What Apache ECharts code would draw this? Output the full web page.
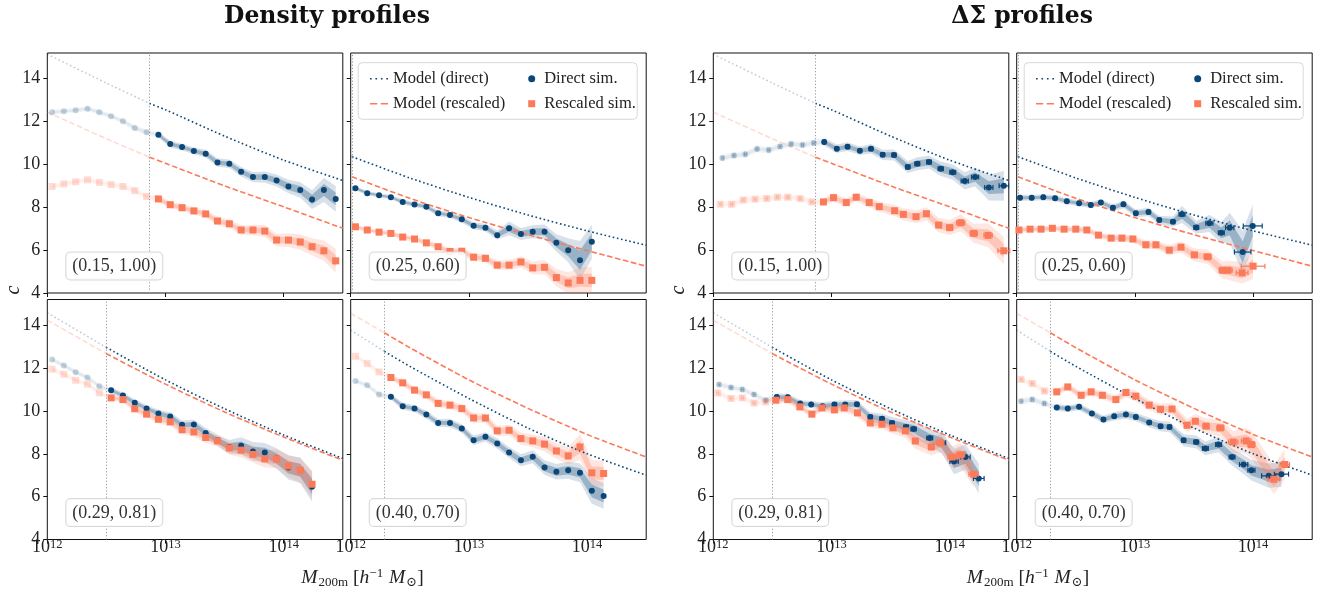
<!DOCTYPE html>
<html>
<head>
<meta charset="utf-8">
<script src="https://cdn.jsdelivr.net/npm/echarts@6/dist/echarts.min.js"></script>
<style>
  html, body { margin: 0; padding: 0; background: #fff; }
  #chart { width: 1322px; height: 594px; }
</style>
</head>
<body>
<div id="chart"></div>
<script>
// ---------------------------------------------------------------------------
// Concentration–mass relations: model curves (log10 M grid incl. the cut mass)
// ---------------------------------------------------------------------------
const modelA_logM     = [12.0, 12.5, 12.864, 13.0, 13.5, 14.0, 14.5];
const modelA_direct   = [15.14, 13.8, 12.85, 12.55, 11.32, 10.2, 9.25];
const modelA_rescaled = [12.44, 11.2, 10.34, 10.05, 9.0, 8.02, 7.02];

const modelB_logM     = [12.0, 12.012, 12.5, 13.0, 13.5, 14.0, 14.5];
const modelB_direct   = [10.38, 10.36, 9.37, 8.46, 7.64, 6.9, 6.23];
const modelB_rescaled = [9.44, 9.42, 8.42, 7.52, 6.72, 5.98, 5.25];

const modelC_logM     = [12.0, 12.497, 13.0, 13.5, 14.0, 14.5];
const modelC_direct   = [14.58, 12.97, 11.45, 10.1, 8.88, 7.78];
const modelC_rescaled = [14.23, 12.68, 11.25, 9.95, 8.78, 7.70];

const modelD_logM     = [12.0, 12.285, 12.5, 13.0, 13.5, 14.0, 14.5];
const modelD_direct   = [13.77, 12.78, 12.08, 10.58, 9.2, 8.0, 7.0];
const modelD_rescaled = [14.55, 13.65, 12.95, 11.45, 10.12, 8.9, 7.85];

// resolution cut (log10 M) per parameter set
const cutA = 12.864, cutB = 12.012, cutC = 12.497, cutD = 12.285;

// ---------------------------------------------------------------------------
// Density-profile fits
// ---------------------------------------------------------------------------
const densA_logM = [12.04,12.14,12.24,12.34,12.44,12.54,12.64,12.74,12.84,12.94,13.04,13.14,13.24,13.34,13.44,13.54,13.64,13.74,13.84,13.94,14.04,14.14,14.24,14.34,14.44];
const densA_direct = [12.44,12.48,12.53,12.60,12.44,12.25,12.02,11.70,11.50,11.39,10.95,10.81,10.63,10.50,10.09,10.03,9.66,9.41,9.41,9.25,8.97,8.81,8.36,8.81,8.39];
const densA_directErr = [0.06,0.06,0.06,0.06,0.06,0.06,0.06,0.07,0.07,0.07,0.08,0.08,0.08,0.09,0.1,0.1,0.11,0.12,0.13,0.14,0.16,0.18,0.22,0.28,0.3];
const densA_rescaled = [8.97,9.09,9.19,9.28,9.16,9.06,8.97,8.78,8.50,8.39,8.12,7.98,7.83,7.69,7.36,7.23,6.94,6.94,6.89,6.47,6.47,6.38,6.16,5.97,5.50];
const densA_rescaledErr = [0.06,0.06,0.06,0.06,0.06,0.06,0.07,0.07,0.07,0.08,0.08,0.08,0.09,0.09,0.1,0.1,0.11,0.12,0.14,0.15,0.16,0.18,0.2,0.24,0.28];

const densB_logM = [12.04,12.14,12.24,12.34,12.44,12.54,12.64,12.74,12.84,12.94,13.04,13.14,13.24,13.34,13.44,13.54,13.64,13.74,13.84,13.94,14.04];
const densB_direct = [8.89,8.66,8.56,8.47,8.25,8.13,8.03,7.72,7.64,7.44,7.14,7.05,6.70,7.02,6.75,6.86,6.86,6.34,6.00,5.53,6.39];
const densB_directErr = [0.05,0.05,0.05,0.05,0.06,0.06,0.06,0.07,0.07,0.08,0.08,0.09,0.1,0.16,0.14,0.15,0.17,0.2,0.28,0.45,0.4];
const densB_rescaled = [7.09,6.94,6.84,6.78,6.61,6.52,6.34,6.16,5.94,5.95,5.67,5.62,5.30,5.30,5.45,5.17,5.20,4.72,4.47,4.59,4.59];
const densB_rescaledErr = [0.05,0.05,0.05,0.06,0.06,0.06,0.07,0.07,0.08,0.08,0.09,0.1,0.11,0.12,0.13,0.15,0.17,0.2,0.25,0.3,0.32];

const densC_logM = [12.04,12.14,12.24,12.34,12.44,12.54,12.64,12.74,12.84,12.94,13.04,13.14,13.24,13.34,13.44,13.54,13.64,13.74,13.84,13.94,14.04,14.14,14.24];
const densC_direct = [12.40,12.12,11.81,11.56,11.15,10.97,10.72,10.38,10.11,9.88,9.74,9.35,9.37,8.97,8.63,8.32,8.37,8.11,8.06,7.78,7.36,7.23,6.46];
const densC_directErr = [0.06,0.06,0.06,0.06,0.06,0.07,0.07,0.08,0.08,0.09,0.1,0.1,0.11,0.12,0.13,0.16,0.2,0.22,0.22,0.24,0.28,0.3,0.35];
const densC_rescaled = [11.95,11.71,11.43,11.25,10.84,10.61,10.53,10.10,9.85,9.61,9.49,9.12,9.02,8.76,8.60,8.27,8.17,7.97,7.76,7.76,7.43,7.23,6.58];
const densC_rescaledErr = [0.06,0.06,0.06,0.06,0.06,0.07,0.07,0.08,0.08,0.09,0.1,0.1,0.11,0.12,0.13,0.15,0.17,0.19,0.2,0.22,0.26,0.28,0.32];

const densD_logM = [12.04,12.14,12.24,12.34,12.44,12.54,12.64,12.74,12.84,12.94,13.04,13.14,13.24,13.34,13.44,13.54,13.64,13.74,13.84,13.94,14.04,14.14];
const densD_direct = [11.40,11.20,10.77,10.66,10.22,10.11,9.83,9.44,9.44,9.18,8.63,8.79,8.48,8.06,7.70,7.86,7.36,7.16,7.23,7.11,6.27,6.03];
const densD_directErr = [0.06,0.06,0.07,0.07,0.08,0.08,0.09,0.09,0.1,0.1,0.11,0.11,0.12,0.13,0.14,0.15,0.17,0.18,0.2,0.22,0.3,0.3];
const densD_rescaled = [12.55,12.21,11.82,11.56,11.31,10.97,10.75,10.35,10.27,10.11,9.67,9.67,9.07,9.10,8.71,8.60,8.45,8.13,7.90,8.32,7.11,7.08];
const densD_rescaledErr = [0.06,0.06,0.07,0.07,0.08,0.08,0.09,0.09,0.1,0.1,0.11,0.11,0.12,0.13,0.14,0.15,0.17,0.18,0.2,0.3,0.3,0.3];

// ---------------------------------------------------------------------------
// Excess-surface-density (ΔΣ) fits, with mass uncertainties (dex)
// ---------------------------------------------------------------------------
const dsA_directLogM = [12.076,12.175,12.271,12.370,12.469,12.565,12.659,12.755,12.850,12.938,13.045,13.136,13.240,13.334,13.433,13.529,13.645,13.726,13.825,13.924,14.026,14.127,14.215,14.331,14.458];
const dsA_direct = [10.30,10.42,10.47,10.72,10.67,10.84,10.95,10.91,11.00,11.05,10.73,10.83,10.64,10.73,10.45,10.44,9.88,10.03,10.11,9.80,9.64,9.23,9.41,8.92,9.00];
const dsA_directErr = [0.08,0.08,0.08,0.08,0.08,0.08,0.08,0.08,0.08,0.09,0.1,0.1,0.1,0.11,0.12,0.13,0.14,0.15,0.15,0.17,0.18,0.2,0.22,0.3,0.35];
const dsA_directXErr = [0.008,0.008,0.008,0.008,0.008,0.008,0.008,0.008,0.009,0.01,0.012,0.012,0.012,0.014,0.015,0.016,0.018,0.02,0.02,0.022,0.025,0.03,0.03,0.035,0.04];
const dsA_rescaledLogM = [12.057,12.156,12.254,12.353,12.452,12.542,12.630,12.735,12.834,12.932,13.017,13.125,13.209,13.319,13.404,13.534,13.608,13.715,13.803,13.907,14.000,14.093,14.203,14.325,14.458];
const dsA_rescaled = [8.14,8.14,8.34,8.38,8.41,8.47,8.47,8.41,8.25,8.25,8.45,8.22,8.47,8.22,8.03,7.84,7.67,7.56,7.70,7.17,7.05,7.28,6.78,6.69,5.97];
const dsA_rescaledErr = [0.08,0.08,0.08,0.08,0.08,0.08,0.08,0.08,0.08,0.09,0.1,0.1,0.1,0.11,0.12,0.13,0.14,0.15,0.15,0.17,0.18,0.2,0.22,0.28,0.32];
const dsA_rescaledXErr = [0.008,0.008,0.008,0.008,0.008,0.008,0.008,0.008,0.009,0.01,0.012,0.012,0.012,0.014,0.015,0.016,0.018,0.02,0.02,0.022,0.025,0.035,0.03,0.035,0.05];

const dsB_directLogM = [12.028,12.127,12.225,12.325,12.424,12.528,12.627,12.712,12.814,12.903,13.008,13.115,13.206,13.322,13.398,13.519,13.630,13.731,13.802,13.912,13.997];
const dsB_direct = [8.44,8.44,8.47,8.42,8.28,8.19,8.11,8.22,7.98,8.14,7.72,7.78,7.41,7.33,7.67,7.06,7.25,6.81,7.05,5.91,7.13];
const dsB_directErr = [0.07,0.07,0.07,0.07,0.07,0.07,0.07,0.08,0.08,0.09,0.09,0.1,0.1,0.12,0.2,0.15,0.2,0.25,0.35,0.5,0.5];
const dsB_directXErr = [0.008,0.008,0.008,0.008,0.008,0.008,0.009,0.01,0.01,0.01,0.012,0.012,0.013,0.015,0.025,0.02,0.03,0.025,0.035,0.07,0.08];
const dsB_rescaledLogM = [12.019,12.113,12.206,12.302,12.401,12.500,12.593,12.692,12.799,12.890,12.983,13.093,13.178,13.291,13.390,13.503,13.615,13.742,13.788,13.907,14.000];
const dsB_rescaled = [6.94,6.98,6.98,7.02,6.98,6.98,6.94,6.70,6.56,6.56,6.52,6.25,6.25,6.00,6.14,5.78,5.69,5.06,5.06,4.94,5.25];
const dsB_rescaledErr = [0.07,0.07,0.07,0.07,0.07,0.07,0.07,0.08,0.08,0.09,0.09,0.1,0.1,0.12,0.13,0.15,0.17,0.2,0.22,0.25,0.3];
const dsB_rescaledXErr = [0.008,0.008,0.008,0.008,0.008,0.008,0.009,0.01,0.01,0.01,0.012,0.012,0.013,0.015,0.02,0.025,0.03,0.03,0.035,0.05,0.1];

const dsC_directLogM = [12.048,12.150,12.246,12.345,12.444,12.537,12.630,12.735,12.828,12.924,13.025,13.116,13.215,13.328,13.427,13.512,13.631,13.695,13.831,13.936,14.037,14.133,14.246];
const dsC_direct = [11.23,11.09,11.00,10.77,10.50,10.65,10.64,10.35,10.30,10.22,10.30,10.30,10.31,9.72,9.63,9.44,9.25,9.16,8.74,8.51,7.64,7.85,6.85];
const dsC_directErr = [0.07,0.07,0.07,0.07,0.07,0.08,0.08,0.08,0.08,0.09,0.09,0.1,0.1,0.11,0.12,0.14,0.16,0.18,0.2,0.25,0.3,0.3,0.35];
const dsC_directXErr = [0.008,0.008,0.008,0.008,0.008,0.009,0.01,0.01,0.01,0.012,0.012,0.013,0.014,0.015,0.016,0.018,0.02,0.022,0.025,0.03,0.035,0.04,0.045];
const dsC_rescaledLogM = [12.037,12.150,12.246,12.345,12.444,12.529,12.630,12.732,12.834,12.919,13.025,13.108,13.220,13.328,13.427,13.520,13.625,13.709,13.845,13.921,14.020,14.091,14.203];
const dsC_rescaled = [10.84,10.58,10.61,10.37,10.42,10.50,10.53,10.19,9.85,10.14,10.05,10.14,9.91,9.44,9.38,9.21,9.07,8.60,8.32,8.51,7.85,7.95,7.05];
const dsC_rescaledErr = [0.07,0.07,0.07,0.07,0.07,0.08,0.08,0.08,0.08,0.09,0.09,0.1,0.1,0.11,0.12,0.14,0.16,0.18,0.2,0.22,0.25,0.28,0.3];
const dsC_rescaledXErr = [0.008,0.008,0.008,0.008,0.008,0.009,0.01,0.01,0.01,0.012,0.012,0.013,0.014,0.015,0.016,0.018,0.02,0.022,0.025,0.03,0.035,0.035,0.04];

const dsD_directLogM = [12.036,12.132,12.234,12.339,12.432,12.528,12.636,12.734,12.825,12.924,13.008,13.121,13.217,13.293,13.412,13.519,13.596,13.708,13.822,13.920,13.986,14.132,14.240];
const dsD_direct = [10.45,10.53,10.35,10.16,10.11,10.19,9.88,9.60,9.75,9.83,9.72,9.46,9.29,9.25,8.63,8.55,8.25,8.43,7.85,7.50,7.23,6.97,7.05];
const dsD_directErr = [0.08,0.08,0.08,0.08,0.08,0.08,0.09,0.09,0.1,0.1,0.1,0.11,0.12,0.12,0.14,0.15,0.16,0.18,0.2,0.22,0.24,0.28,0.3];
const dsD_directXErr = [0.008,0.008,0.008,0.008,0.008,0.009,0.01,0.01,0.01,0.012,0.012,0.013,0.014,0.015,0.016,0.02,0.025,0.025,0.025,0.035,0.03,0.06,0.06];
const dsD_rescaledLogM = [12.036,12.132,12.234,12.339,12.432,12.545,12.630,12.725,12.839,12.924,13.008,13.121,13.217,13.314,13.441,13.511,13.602,13.723,13.831,13.941,13.986,14.175,14.268];
const dsD_rescaled = [11.47,11.28,10.93,10.89,11.12,10.73,10.89,10.73,10.53,10.86,10.69,10.27,10.08,10.09,9.33,9.52,9.29,9.21,8.55,8.60,8.43,6.81,7.50];
const dsD_rescaledErr = [0.08,0.08,0.08,0.08,0.08,0.09,0.09,0.1,0.1,0.11,0.12,0.12,0.13,0.14,0.16,0.17,0.18,0.2,0.25,0.3,0.32,0.35,0.35];
const dsD_rescaledXErr = [0.008,0.008,0.008,0.008,0.008,0.009,0.01,0.01,0.01,0.012,0.012,0.013,0.014,0.015,0.016,0.02,0.025,0.03,0.04,0.04,0.03,0.05,0.04];

// axis ticks / labels
const xTickValues = [1e12, 1e13, 1e14];
const yTickValues = [4, 6, 8, 10, 12, 14];
const paramLabels = ['(0.15, 1.00)', '(0.25, 0.60)', '(0.29, 0.81)', '(0.40, 0.70)'];
const groupTitles = ['Density profiles', 'ΔΣ profiles'];
const legendNames = ['Model (direct)', 'Model (rescaled)', 'Direct sim.', 'Rescaled sim.'];

// ---------------------------------------------------------------------------
// Styling and layout
// ---------------------------------------------------------------------------
const BLUE = '#0a4677';
const ORANGE = '#fb7a5a';
const FONT = '"Liberation Serif", "DejaVu Serif", serif';
const TITLE_FONT = '"DejaVu Serif", "Liberation Serif", serif';
const COL_LEFT = [47.3, 350.7, 713.3, 1016.7];
const ROW_TOP = [53, 299.5];
const PW = 295.5, PH = 240;
const X_MIN = 1e12, X_MAX = Math.pow(10, 14.5);

// legend glyphs for the two model line styles
const ICON_DOTTED = 'path://M0,0h1.6v1.6h-1.6z M5.3,0h1.6v1.6h-1.6z M10.6,0h1.6v1.6h-1.6z M15.9,0h1.6v1.6h-1.6z';
const ICON_DASHED = 'path://M0,0h7v1.6h-7z M10.5,0h7v1.6h-7z';

function rgba(hex, a) {
  const n = parseInt(hex.slice(1), 16);
  return 'rgba(' + (n >> 16) + ',' + ((n >> 8) & 255) + ',' + (n & 255) + ',' + a + ')';
}
const pow10 = (l) => Math.pow(10, l);

const models = {
  A: { logM: modelA_logM, direct: modelA_direct, rescaled: modelA_rescaled, cut: cutA, label: paramLabels[0] },
  B: { logM: modelB_logM, direct: modelB_direct, rescaled: modelB_rescaled, cut: cutB, label: paramLabels[1] },
  C: { logM: modelC_logM, direct: modelC_direct, rescaled: modelC_rescaled, cut: cutC, label: paramLabels[2] },
  D: { logM: modelD_logM, direct: modelD_direct, rescaled: modelD_rescaled, cut: cutD, label: paramLabels[3] }
};

const panels = [
  { g: 0, col: 0, row: 0, m: 'A', d: { lm: densA_logM, v: densA_direct, e: densA_directErr }, r: { lm: densA_logM, v: densA_rescaled, e: densA_rescaledErr } },
  { g: 0, col: 1, row: 0, m: 'B', d: { lm: densB_logM, v: densB_direct, e: densB_directErr }, r: { lm: densB_logM, v: densB_rescaled, e: densB_rescaledErr }, legend: true },
  { g: 0, col: 0, row: 1, m: 'C', d: { lm: densC_logM, v: densC_direct, e: densC_directErr }, r: { lm: densC_logM, v: densC_rescaled, e: densC_rescaledErr } },
  { g: 0, col: 1, row: 1, m: 'D', d: { lm: densD_logM, v: densD_direct, e: densD_directErr }, r: { lm: densD_logM, v: densD_rescaled, e: densD_rescaledErr } },
  { g: 1, col: 0, row: 0, m: 'A', d: { lm: dsA_directLogM, v: dsA_direct, e: dsA_directErr, xe: dsA_directXErr }, r: { lm: dsA_rescaledLogM, v: dsA_rescaled, e: dsA_rescaledErr, xe: dsA_rescaledXErr } },
  { g: 1, col: 1, row: 0, m: 'B', d: { lm: dsB_directLogM, v: dsB_direct, e: dsB_directErr, xe: dsB_directXErr }, r: { lm: dsB_rescaledLogM, v: dsB_rescaled, e: dsB_rescaledErr, xe: dsB_rescaledXErr }, legend: true },
  { g: 1, col: 0, row: 1, m: 'C', d: { lm: dsC_directLogM, v: dsC_direct, e: dsC_directErr, xe: dsC_directXErr }, r: { lm: dsC_rescaledLogM, v: dsC_rescaled, e: dsC_rescaledErr, xe: dsC_rescaledXErr } },
  { g: 1, col: 1, row: 1, m: 'D', d: { lm: dsD_directLogM, v: dsD_direct, e: dsD_directErr, xe: dsD_directXErr }, r: { lm: dsD_rescaledLogM, v: dsD_rescaled, e: dsD_rescaledErr, xe: dsD_rescaledXErr } }
];

// shaded 1σ / 2σ band between indices [from, to]
function bandSeries(gi, s, from, to, color, aOuter, aInner, z) {
  return {
    type: 'custom', xAxisIndex: gi, yAxisIndex: gi, silent: true, z: z,
    data: [[pow10(s.lm[from]), s.v[from]]],
    renderItem: function (params, api) {
      function poly(k) {
        const up = [], dn = [];
        for (let i = from; i <= to; i++) {
          const M = pow10(s.lm[i]);
          up.push(api.coord([M, s.v[i] + k * s.e[i]]));
          dn.push(api.coord([M, s.v[i] - k * s.e[i]]));
        }
        return up.concat(dn.reverse());
      }
      return {
        type: 'group',
        children: [
          { type: 'polygon', shape: { points: poly(2) }, style: { fill: rgba(color, aOuter) } },
          { type: 'polygon', shape: { points: poly(1) }, style: { fill: rgba(color, aInner) } }
        ]
      };
    }
  };
}

// horizontal mass error bars with caps
function xerrSeries(gi, s, from, to, color, z) {
  const data = [];
  for (let i = from; i <= to; i++) data.push([pow10(s.lm[i]), s.v[i], s.xe[i]]);
  return {
    type: 'custom', xAxisIndex: gi, yAxisIndex: gi, silent: true, z: z,
    encode: { x: 0, y: 1 },
    data: data,
    renderItem: function (params, api) {
      const M = api.value(0), v = api.value(1), e = api.value(2);
      const a = api.coord([M / Math.pow(10, e), v]);
      const b = api.coord([M * Math.pow(10, e), v]);
      const st = { stroke: color, lineWidth: 1.2 };
      return {
        type: 'group',
        children: [
          { type: 'line', shape: { x1: a[0], y1: a[1], x2: b[0], y2: b[1] }, style: st },
          { type: 'line', shape: { x1: a[0], y1: a[1] - 2.5, x2: a[0], y2: a[1] + 2.5 }, style: st },
          { type: 'line', shape: { x1: b[0], y1: b[1] - 2.5, x2: b[0], y2: b[1] + 2.5 }, style: st }
        ]
      };
    }
  };
}

function scatterSeries(gi, s, from, to, color, symbol, size, z, name) {
  const data = [];
  for (let i = from; i <= to; i++) data.push([pow10(s.lm[i]), s.v[i]]);
  const o = {
    type: 'scatter', xAxisIndex: gi, yAxisIndex: gi, z: z,
    symbol: symbol, symbolSize: size, data: data,
    itemStyle: { color: color, opacity: 1 }, silent: true
  };
  if (name) o.name = name;
  return o;
}

function modelSeries(gi, mdl, key, color, dash, z, name, withCut) {
  const ci = mdl.logM.indexOf(mdl.cut);
  const pts = mdl.logM.map((l, i) => [pow10(l), mdl[key][i]]);
  const base = {
    type: 'line', xAxisIndex: gi, yAxisIndex: gi, z: z, symbol: 'none', showSymbol: false,
    smooth: 0.25, silent: true
  };
  const faded = Object.assign({}, base, {
    data: pts.slice(0, ci + 1),
    itemStyle: { color: rgba(color, 0.28) },
    lineStyle: { color: rgba(color, 0.28), width: 1.5, type: dash }
  });
  if (withCut) {
    faded.markLine = {
      silent: true, symbol: 'none', label: { show: false },
      lineStyle: { color: '#9a9a9a', width: 1, type: [1.2, 2] },
      data: [{ xAxis: pow10(mdl.cut) }]
    };
  }
  const full = Object.assign({}, base, {
    name: name,
    data: pts.slice(ci),
    itemStyle: { color: color },
    lineStyle: { color: color, width: 1.6, type: dash }
  });
  return [faded, full];
}

const grids = [], xAxes = [], yAxes = [], series = [], graphics = [], legends = [];

const DOTTED = [1.6, 2.6];
const DASHED = [5.5, 2.6];

panels.forEach(function (p, gi) {
  const left = COL_LEFT[p.g * 2 + p.col];
  const top = ROW_TOP[p.row];
  const mdl = models[p.m];

  grids.push({
    left: left, top: top, width: PW, height: PH,
    show: true, borderColor: '#111', borderWidth: 1, backgroundColor: 'transparent'
  });

  xAxes.push({
    type: 'log', logBase: 10, gridIndex: gi, min: X_MIN, max: X_MAX,
    axisLine: { show: false },
    splitLine: { show: false },
    minorTick: { show: false },
    axisTick: { show: true, inside: false, length: 4, customValues: xTickValues, lineStyle: { color: '#111', width: 1 } },
    axisLabel: {
      show: p.row === 1, customValues: xTickValues, margin: 8, verticalAlign: 'middle',
      formatter: function (v) {
        const e = Math.log10(v);
        if (Math.abs(e - Math.round(e)) > 1e-6) return '';
        return '{b|10}{s|' + Math.round(e) + '}';
      },
      rich: {
        b: { fontFamily: FONT, fontSize: 18, color: '#222', lineHeight: 18, verticalAlign: 'bottom' },
        s: { fontFamily: FONT, fontSize: 12.5, color: '#222', lineHeight: 12, padding: [0, 0, 11, 0], verticalAlign: 'top' }
      }
    }
  });

  yAxes.push({
    type: 'value', gridIndex: gi, min: 4, max: 15.2,
    axisLine: { show: false },
    splitLine: { show: false },
    axisTick: { show: true, inside: false, length: 4, customValues: yTickValues, lineStyle: { color: '#111', width: 1 } },
    axisLabel: {
      show: p.col === 0, customValues: yTickValues, margin: 7,
      formatter: function (v) { return yTickValues.indexOf(v) >= 0 ? String(v) : ''; },
      fontFamily: FONT, fontSize: 18, color: '#222'
    }
  });

  // bands
  const dFirst = p.d.lm.findIndex(l => l > mdl.cut);
  const rFirst = p.r.lm.findIndex(l => l > mdl.cut);
  if (dFirst > 0) series.push(bandSeries(gi, p.d, 0, dFirst, BLUE, 0.05, 0.07, 1));
  series.push(bandSeries(gi, p.d, dFirst, p.d.lm.length - 1, BLUE, 0.16, 0.30, 1));
  if (rFirst > 0) series.push(bandSeries(gi, p.r, 0, rFirst, ORANGE, 0.06, 0.08, 1));
  series.push(bandSeries(gi, p.r, rFirst, p.r.lm.length - 1, ORANGE, 0.18, 0.30, 1));

  // model curves
  modelSeries(gi, mdl, 'rescaled', ORANGE, DASHED, 3, legendNames[1], false).forEach(s => series.push(s));
  modelSeries(gi, mdl, 'direct', BLUE, DOTTED, 3, legendNames[0], true).forEach(s => series.push(s));

  // mass error bars (ΔΣ fits only)
  if (p.d.xe) {
    if (dFirst > 0) series.push(xerrSeries(gi, p.d, 0, dFirst - 1, rgba(BLUE, 0.22), 4));
    series.push(xerrSeries(gi, p.d, dFirst, p.d.lm.length - 1, BLUE, 4));
  }
  if (p.r.xe) {
    if (rFirst > 0) series.push(xerrSeries(gi, p.r, 0, rFirst - 1, rgba(ORANGE, 0.25), 6));
    series.push(xerrSeries(gi, p.r, rFirst, p.r.lm.length - 1, ORANGE, 6));
  }

  // markers
  if (dFirst > 0) series.push(scatterSeries(gi, p.d, 0, dFirst - 1, rgba(BLUE, 0.22), 'circle', 6, 5));
  series.push(scatterSeries(gi, p.d, dFirst, p.d.lm.length - 1, BLUE, 'circle', 6, 5, legendNames[2]));
  if (rFirst > 0) series.push(scatterSeries(gi, p.r, 0, rFirst - 1, rgba(ORANGE, 0.25), 'rect', 7, 7));
  series.push(scatterSeries(gi, p.r, rFirst, p.r.lm.length - 1, ORANGE, 'rect', 7, 7, legendNames[3]));

  // parameter label box
  graphics.push({
    type: 'text', left: left + 18, top: top + PH - 41.5, z: 100,
    style: {
      text: mdl.label, font: '18px ' + FONT, fill: '#333',
      backgroundColor: 'rgba(255,255,255,0.85)', borderColor: '#d8d8d8', borderWidth: 1,
      borderRadius: 4, padding: [5, 6, 4, 6]
    }
  });

  // legend
  if (p.legend) {
    graphics.push({
      type: 'rect', z: 90,
      shape: { x: left + 7.5, y: top + 9.7, width: 279, height: 56.6, r: 4 },
      style: { fill: 'rgba(255,255,255,0.85)', stroke: '#d8d8d8', lineWidth: 1 }
    });
    legends.push({
      data: [
        { name: legendNames[0], icon: ICON_DOTTED },
        { name: legendNames[1], icon: ICON_DASHED }
      ],
      orient: 'vertical',
      left: left + 14.3, top: top + 11.7, itemWidth: 18, itemHeight: 2, itemGap: 7,
      selectedMode: false, z: 100,
      textStyle: { fontFamily: FONT, fontSize: 16.5, color: '#222', lineHeight: 18 }
    });
    legends.push({
      data: [legendNames[2], legendNames[3]], orient: 'vertical',
      left: left + 172.5, top: top + 11.7, itemWidth: 7, itemHeight: 7, itemGap: 7,
      selectedMode: false, z: 100,
      textStyle: { fontFamily: FONT, fontSize: 16.5, color: '#222', lineHeight: 18, padding: [0, 0, 0, 4] }
    });
  }
});

// group titles, axis titles
[[327, groupTitles[0]], [1022, groupTitles[1]]].forEach(function (t) {
  graphics.push({
    type: 'text', x: t[0], y: 17, z: 100,
    style: { text: t[1], font: 'bold 23.5px ' + TITLE_FONT, fill: '#111', align: 'center', verticalAlign: 'middle' }
  });
});
[14, 679].forEach(function (x) {
  graphics.push({
    type: 'text', x: x, y: 290, rotation: Math.PI / 2, z: 100,
    style: { text: 'c', font: 'italic 20px ' + FONT, fill: '#222', align: 'center', verticalAlign: 'middle' }
  });
});
[362.5, 1028].forEach(function (x) {
  graphics.push({
    type: 'text', x: x, y: 578, z: 100,
    style: {
      text: '{i|M}{sub|200m}{t| [}{i|h}{sup|−1}{t| }{i|M}{sub|⊙}{t|]}',
      align: 'center', verticalAlign: 'middle', fill: '#222',
      rich: {
        i: { fontFamily: FONT, fontStyle: 'italic', fontSize: 19.5, lineHeight: 22, verticalAlign: 'middle', fill: '#222' },
        t: { fontFamily: FONT, fontSize: 19.5, lineHeight: 22, verticalAlign: 'middle', fill: '#222' },
        sub: { fontFamily: FONT, fontSize: 13, lineHeight: 13, padding: [10, 0, 0, 1], verticalAlign: 'middle', fill: '#222' },
        sup: { fontFamily: FONT, fontSize: 13, lineHeight: 13, padding: [0, 1, 9, 0], verticalAlign: 'middle', fill: '#222' }
      }
    }
  });
});

const chart = echarts.init(document.getElementById('chart'), null, { renderer: 'canvas' });
chart.setOption({
  animation: false,
  backgroundColor: '#fff',
  grid: grids,
  xAxis: xAxes,
  yAxis: yAxes,
  legend: legends,
  series: series,
  graphic: graphics
});
</script>
</body>
</html>
